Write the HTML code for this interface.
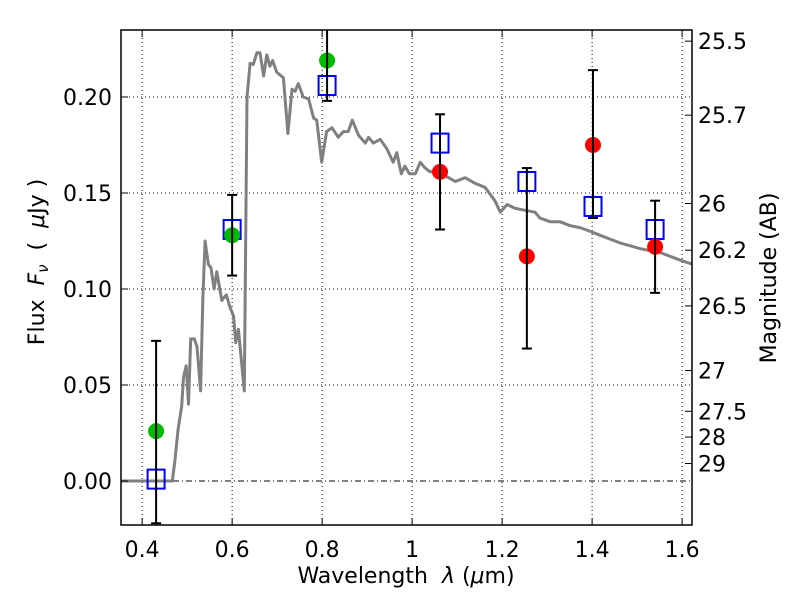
<!DOCTYPE html>
<html><head><meta charset="utf-8"><style>
body{margin:0;background:#fff;}
svg text{font-family:"DejaVu Sans","Liberation Sans",sans-serif;}
</style></head><body>
<svg id="chart" width="800" height="600" xmlns="http://www.w3.org/2000/svg">
<rect width="800" height="600" fill="#fff"/>
<g id="grid"></g>
<g id="plot"></g>
<g id="axes"></g>
<text x="406" y="583" font-size="22" text-anchor="middle" xml:space="preserve">Wavelength  <tspan font-style="italic">λ</tspan> (<tspan font-style="italic">μ</tspan>m)</text>
<text transform="translate(44,262) rotate(-90)" font-size="22" text-anchor="middle" xml:space="preserve">Flux  <tspan font-style="italic">F</tspan><tspan font-style="italic" font-size="15" dy="4">ν</tspan><tspan dy="-4">  (  </tspan><tspan font-style="italic">μ</tspan>Jy )</text>
<text transform="translate(776,278) rotate(-90)" font-size="22" text-anchor="middle">Magnitude (AB)</text>
</svg>
<script>
const spectrumLam=[0.353,0.467,0.473,0.480,0.488,0.492,0.498,0.503,0.508,0.516,0.522,0.530,0.535,0.540,0.547,0.553,0.560,0.566,0.577,0.587,0.596,0.603,0.608,0.614,0.627,0.633,0.640,0.647,0.655,0.662,0.670,0.677,0.684,0.690,0.699,0.714,0.724,0.733,0.740,0.747,0.758,0.770,0.781,0.788,0.799,0.810,0.822,0.836,0.847,0.858,0.867,0.881,0.896,0.903,0.914,0.929,0.944,0.958,0.966,0.976,0.984,0.994,1.007,1.018,1.029,1.040,1.056,1.073,1.096,1.118,1.140,1.162,1.184,1.196,1.211,1.229,1.251,1.273,1.284,1.307,1.329,1.351,1.373,1.396,1.418,1.440,1.462,1.507,1.551,1.596,1.622];
const spectrumFlux=[0,0,0.011,0.027,0.039,0.054,0.060,0.040,0.074,0.074,0.070,0.047,0.096,0.125,0.113,0.111,0.100,0.109,0.094,0.097,0.090,0.086,0.072,0.079,0.047,0.200,0.2175,0.217,0.223,0.223,0.211,0.222,0.216,0.219,0.213,0.210,0.181,0.204,0.203,0.207,0.200,0.199,0.189,0.188,0.166,0.182,0.184,0.179,0.182,0.182,0.188,0.180,0.176,0.179,0.176,0.178,0.173,0.166,0.171,0.160,0.164,0.160,0.160,0.166,0.163,0.161,0.162,0.159,0.156,0.158,0.155,0.153,0.146,0.140,0.144,0.142,0.141,0.140,0.137,0.135,0.135,0.133,0.132,0.130,0.128,0.126,0.124,0.121,0.119,0.115,0.113];
const greenLam=[0.431,0.600,0.811];
const greenFlux=[0.026,0.128,0.219];
const greenErrLo=[-0.022,0.107,0.198];
const greenErrHi=[0.073,0.149,0.240];
const redLam=[1.062,1.255,1.402,1.540];
const redFlux=[0.161,0.117,0.175,0.122];
const redErrLo=[0.131,0.069,0.137,0.098];
const redErrHi=[0.191,0.163,0.214,0.146];
const modelLam=[0.431,0.600,0.811,1.062,1.255,1.402,1.540];
const modelFlux=[0.001,0.131,0.206,0.176,0.156,0.143,0.131];
const xTicks=[0.4,0.6,0.8,1.0,1.2,1.4,1.6];
const xTickLabels=["0.4","0.6","0.8","1","1.2","1.4","1.6"];
const yTicks=[0,0.05,0.10,0.15,0.20];
const yTickLabels=["0.00","0.05","0.10","0.15","0.20"];
const magTicks=[25.5,25.7,26,26.2,26.5,27,27.5,28,29];
const magTickLabels=["25.5","25.7","26","26.2","26.5","27","27.5","28","29"];

const L=121,T=30,R=692,B=525;
const xMin=0.353,xMax=1.622,yMin=-0.0229,yMax=0.2349;
const X=v=>L+(v-xMin)/(xMax-xMin)*(R-L);
const Y=v=>B-(v-yMin)/(yMax-yMin)*(B-T);
const NS="http://www.w3.org/2000/svg";
function mk(tag,attrs,parent){const e=document.createElementNS(NS,tag);for(const k in attrs)e.setAttribute(k,attrs[k]);parent.appendChild(e);return e;}
const grid=document.getElementById('grid'),plot=document.getElementById('plot'),axes=document.getElementById('axes');

xTicks.forEach((t,i)=>{
  const g=mk('line',{x1:X(t),x2:X(t),y1:T,y2:B,stroke:'#000','stroke-width':1,'stroke-dasharray':'1,3'},grid);
  
  
  const tk=mk('line',{x1:X(t),x2:X(t),y1:B,y2:B-7,stroke:'#000','stroke-width':1},axes);
  
  
  const tk2=mk('line',{x1:X(t),x2:X(t),y1:T,y2:T+7,stroke:'#000','stroke-width':1},axes);
  
  
  const lb=mk('text',{x:X(t),y:B+32,'font-size':22,'text-anchor':'middle'},axes);
  lb.textContent=xTickLabels[i];
  
  
});
yTicks.forEach((t,i)=>{
  const g=mk('line',{x1:L,x2:R,y1:Y(t),y2:Y(t),stroke:'#000','stroke-width':1,'stroke-dasharray':t===0?'6,3,1,3':'1,3'},grid);
  
  
  const tk=mk('line',{x1:L,x2:L+7,y1:Y(t),y2:Y(t),stroke:'#000','stroke-width':1},axes);
  
  
  const lb=mk('text',{x:L-9,y:Y(t)+8,'font-size':22,'text-anchor':'end'},axes);
  lb.textContent=yTickLabels[i];
  
  
});
magTicks.forEach((m,i)=>{
  const f=Math.pow(10,(23.9-m)/2.5);
  const tk=mk('line',{x1:R,x2:R-7,y1:Y(f),y2:Y(f),stroke:'#000','stroke-width':1},axes);
  
  
  const lb=mk('text',{x:R+6,y:Y(f)+8,'font-size':22,'text-anchor':'start'},axes);
  lb.textContent=magTickLabels[i];
  
  
});

const cp=mk('clipPath',{id:'clip'},plot);
mk('rect',{x:L,y:T,width:R-L,height:B-T},cp);
const pg=mk('g',{'clip-path':'url(#clip)'},plot);


const d=spectrumLam.map((l,i)=>(i?'L':'M')+X(l).toFixed(1)+','+Y(spectrumFlux[i]).toFixed(1)).join(' ');
const sp=mk('path',{d:d,fill:'none',stroke:'#808080','stroke-width':3,'stroke-linejoin':'round'},pg);



function errbars(lam,lo,hi,name){
  lam.forEach((l,i)=>{
    const x=X(l);
    const e=mk('line',{x1:x,x2:x,y1:Y(lo[i]),y2:Y(hi[i]),stroke:'#000','stroke-width':2},pg);
    
    
    [lo[i],hi[i]].forEach(v=>{
      const c=mk('line',{x1:x-5,x2:x+5,y1:Y(v),y2:Y(v),stroke:'#000','stroke-width':2},pg);
      
      
    });
  });
}
modelLam.forEach((l,i)=>{
  const s=mk('rect',{x:X(l)-8.5,y:Y(modelFlux[i])-9.5,width:17,height:19,fill:'none',stroke:'#0000ff','stroke-width':2},pg);
  
  
});
greenLam.forEach((l,i)=>{
  const c=mk('circle',{cx:X(l),cy:Y(greenFlux[i]),r:8,fill:'#00bb00'},pg);
  
  
});
redLam.forEach((l,i)=>{
  const c=mk('circle',{cx:X(l),cy:Y(redFlux[i]),r:8,fill:'#ff0000'},pg);
  
  
});
errbars(greenLam,greenErrLo,greenErrHi,'green-error-bar');
errbars(redLam,redErrLo,redErrHi,'red-error-bar');

const fr=mk('rect',{x:L,y:T,width:R-L,height:B-T,fill:'none',stroke:'#000','stroke-width':1.5},axes);


</script>
</body></html>
